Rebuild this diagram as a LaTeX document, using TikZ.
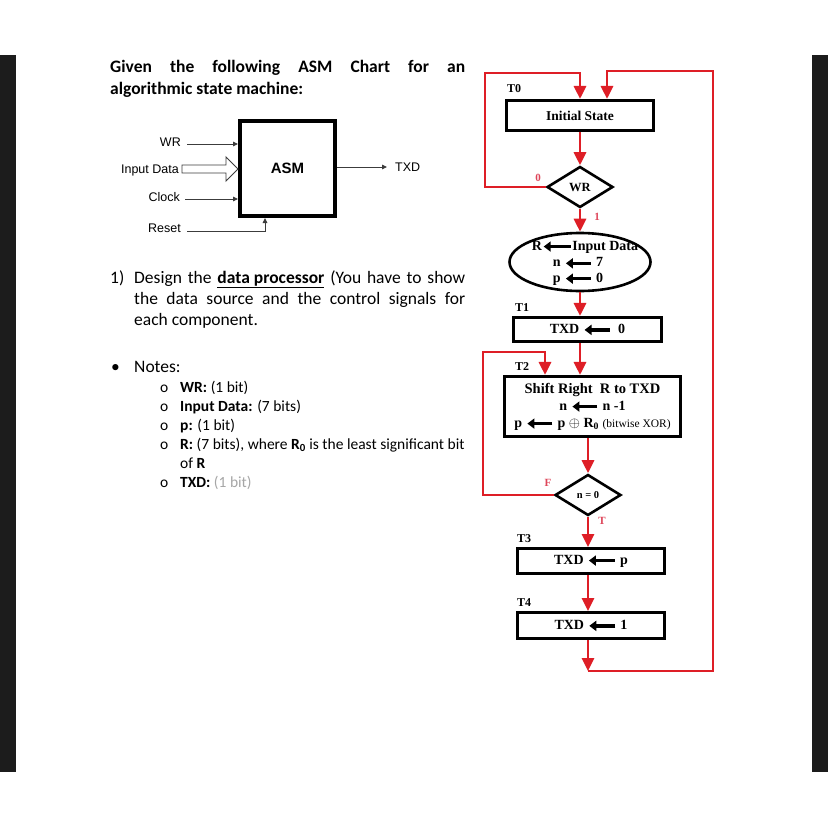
\documentclass[tikz,border=0pt]{standalone}
\usepackage{fontspec}
\setmainfont{Carlito}
\newfontfamily\arialf{Liberation Sans}
\newfontfamily\timesf{Liberation Serif}
\usetikzlibrary{shapes.geometric,arrows.meta,calc}
\definecolor{asmred}{RGB}{222,30,38}
\definecolor{lblred}{RGB}{222,70,90}
\definecolor{barblack}{RGB}{28,28,28}
\definecolor{sigline}{RGB}{60,60,60}
\newcommand\lar[1][24pt]{\tikz[baseline=-0.55ex]\draw[line width=3.4pt,-{Triangle[length=7pt,width=10pt]}](#1,0pt)--(0pt,0pt);}
\tikzset{
  txt/.style={anchor=base west, inner sep=0pt, font=\fontsize{17.5}{21}\selectfont},
  ttl/.style={txt, font=\bfseries\fontsize{17.5}{21}\selectfont},
  note/.style={anchor=base west, inner sep=0pt, font=\fontsize{15.5}{19}\selectfont},
  lbl/.style={anchor=east, inner sep=0pt, font=\arialf\fontsize{12.5}{15}\selectfont},
  sig/.style={draw=sigline, line width=0.9pt, -{Triangle[length=5pt,width=4.5pt]}},
  chartbox/.style={draw, line width=2.6pt, inner sep=0pt, align=center,
    font=\timesf\bfseries\fontsize{14}{17}\selectfont},
  chartdia/.style={diamond, draw, line width=2.6pt, inner sep=0pt,
    font=\timesf\bfseries\fontsize{12.5}{15}\selectfont},
  charttxt/.style={inner sep=0pt, font=\timesf\bfseries\fontsize{14}{16}\selectfont},
  tlbl/.style={inner sep=0pt, font=\timesf\bfseries\fontsize{12}{14}\selectfont},
  rlbl/.style={inner sep=0pt, text=lblred, font=\timesf\bfseries\fontsize{11}{13}\selectfont},
  redline/.style={draw=asmred, line width=2.8pt},
  redarrow/.style={redline, -{Triangle[length=13pt,width=12pt]}},
}
\begin{document}
\begin{tikzpicture}[x=1pt,y=-1pt]
\useasboundingbox (0,0) rectangle (828,828);
\fill[white] (0,0) rectangle (828,828);
\fill[barblack] (0,55) rectangle (16,772);
\fill[barblack] (812,55) rectangle (828,772);

% ---------- title ----------
\node[ttl] (title1) at (110,72) {\makebox[355pt][s]{Given the following ASM Chart for an}};
\node[ttl] (title2) at (110,94) {algorithmic state machine:};

% ---------- ASM block ----------
\node[draw, line width=4pt, minimum width=95pt, minimum height=95pt, inner sep=0pt,
  font=\arialf\bfseries\fontsize{15}{18}\selectfont] (asm) at (287.5,168.5) {ASM};
\node[lbl] (wrl) at (181,142) {WR};
\node[lbl] (idl) at (179,170) {Input Data};
\node[lbl] (ckl) at (180,197) {Clock};
\node[lbl] (rsl) at (181,228) {Reset};
\node[lbl, anchor=west] (txl) at (395,167) {TXD};
\coordinate (wrs) at (187,144);
\coordinate (cks) at (185,199);
\coordinate (rss) at (187,231);
\coordinate (rsc) at (265,231);
\coordinate (txe) at (387,167);
\draw[sig] (wrs) -- (wrs -| asm.west);
\draw[sig] (cks) -- (cks -| asm.west);
\draw[sig] (rss) -- (rsc) -- (rsc |- asm.south);
\draw[sig] (txe -| asm.east) -- (txe);
\draw[sigline, line width=0.9pt, fill=white] (182,165) -- (226,165) -- (226,157) -- (238,169)
  -- (226,181) -- (226,173) -- (182,173) -- cycle;

% ---------- question text ----------
\node[txt] (q1n) at (110,283) {1)};
\node[txt] (q1) at (134,283) {\makebox[331pt][s]{Design the \textbf{\underline{data processor}} (You have to show}};
\node[txt] (q2) at (134,304) {\makebox[331pt][s]{the data source and the control signals for}};
\node[txt] (q3) at (134,325) {each component.};
\node[txt] (bul) at (111,372) {\textbullet};
\node[txt] (notes) at (134,372) {Notes:};
\foreach \yy/\nm in {392/a,411/b,430/c,449/d,487/f}{
  \node[note] (o\nm) at (160,\yy) {o};
}
\node[note] (na) at (180,392) {\textbf{WR:} (1 bit)};
\node[note] (nb) at (180,411) {\textbf{Input Data:} (7 bits)};
\node[note] (nc) at (180,430) {\textbf{p:} (1 bit)};
\node[note] (nd) at (180,449) {\textbf{R:} (7 bits), where \textbf{R\textsubscript{0}} is the least significant bit};
\node[note] (ne) at (180,468) {of \textbf{R}};
\node[note] (nf) at (180,487) {\textbf{TXD:} \textcolor{gray!70}{(1 bit)}};

% ---------- ASM chart ----------
\node[chartbox, minimum width=147.5pt, minimum height=30.5pt, font=\timesf\bfseries\fontsize{13.5}{16}\selectfont] (init) at (580,115.5) {Initial State};
\node[chartdia, minimum width=66pt, minimum height=41pt] (wr) at (580,187) {WR};
\node[draw, ellipse, line width=2.6pt, minimum width=141pt, minimum height=58pt, inner sep=0pt] (ell) at (580,262) {};
\node[charttxt] (e1) at (585,247) {R\lar[27pt]Input Data};
\node[charttxt] (e2) at (578,263) {n \lar[25pt] 7};
\node[charttxt] (e3) at (578,279) {p \lar[25pt] 0};
\node[chartbox, minimum width=148.5pt, minimum height=24.5pt] (t1) at (587.5,329.5) {TXD \lar[25pt]\ \ 0};
\node[chartbox, minimum width=176.5pt, minimum height=60.5pt] (t2) at (592.5,406.5)
  {{\fontsize{14.5}{17}\selectfont Shift Right\ \ R to TXD}\\ n \lar[25pt] n -1\\
   p \lar[25pt] p $\oplus$ R\textsubscript{0} {\mdseries\fontsize{11.5}{13}\selectfont(bitwise XOR)}};
\node[chartdia, minimum width=66pt, minimum height=41pt, font=\timesf\bfseries\fontsize{10.5}{12}\selectfont] (nz) at (588,495) {n = 0};
\node[chartbox, minimum width=147.4pt, minimum height=25.4pt] (t3) at (591,561) {TXD \lar[26pt] p};
\node[chartbox, minimum width=147.4pt, minimum height=26.4pt] (t4) at (591,625.5) {TXD \lar[26pt] 1};

\node[tlbl] (lt0) at (514,89) {T0};
\node[tlbl] (lt1) at (522,308) {T1};
\node[tlbl] (lt2) at (522,367) {T2};
\node[tlbl] (lt3) at (524,539) {T3};
\node[tlbl] (lt4) at (524,603) {T4};
\node[rlbl] (l0) at (538,178) {0};
\node[rlbl] (l1) at (597,217) {1};
\node[rlbl] (lf) at (548,483) {F};
\node[rlbl] (ltt) at (602,521) {T};

% ---------- red connectors ----------
\coordinate (lx) at (485,73);
\coordinate (fx) at (483,352);
\coordinate (fin) at (545,352);
\coordinate (bot) at (588,671);
\coordinate (rx) at (713,671);
\coordinate (tp) at (607,71);
\draw[redarrow] (wr.west) -| (lx) -| (init.north);
\draw[redarrow] (init.south) -- (wr.north);
\draw[redarrow] (wr.south) -- (ell.north);
\draw[redarrow] (ell.south) -- (ell.south |- t1.north);
\draw[redarrow] (ell.south |- t1.south) -- (ell.south |- t2.north);
\draw[redarrow] (nz.west) -| (fx) -- (fin) -- (fin |- t2.north);
\draw[redarrow] (nz.north |- t2.south) -- (nz.north);
\draw[redarrow] (nz.south) -- (nz.south |- t3.north);
\draw[redarrow] (nz.south |- t3.south) -- (nz.south |- t4.north);
\draw[redarrow] (t4.south -| nz.south) -- (bot);
\draw[redarrow] (bot) -- (rx) |- (tp) -- (tp |- init.north);
\end{tikzpicture}
\end{document}
